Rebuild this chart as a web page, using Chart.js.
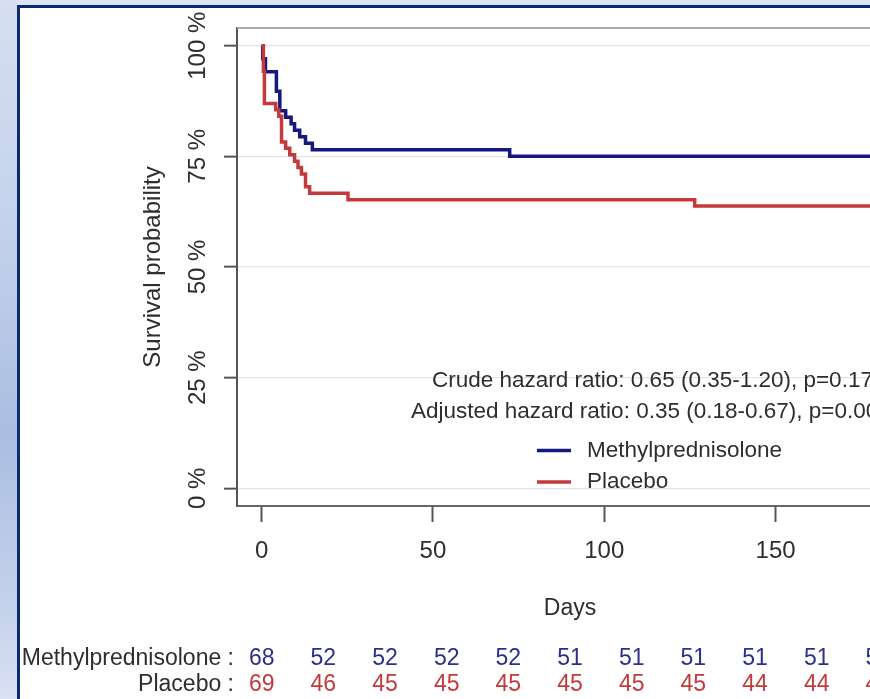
<!DOCTYPE html>
<html>
<head>
<meta charset="utf-8">
<script src="https://cdn.jsdelivr.net/npm/chart.js@4.4.1/dist/chart.umd.min.js"></script>
<style>
  html, body { margin: 0; padding: 0; width: 870px; height: 699px; overflow: hidden; background: #dfe4f4; }
  #strip { position: absolute; left: 0; top: 0; width: 17px; height: 699px;
    background: linear-gradient(to bottom, #d6dff1 0%, #c6d3ec 30%, #aabee2 62%, #c3d0eb 85%, #d9e1f3 100%); }
  #panel { position: absolute; left: 17px; top: 5px; width: 900px; height: 720px; background: #fff;
    border-left: 3px solid #0b2a72; border-top: 3px solid #0b2a72; }
  #wrap { position: absolute; left: 0; top: 0; width: 1000px; height: 699px; }
</style>
</head>
<body>
<div id="strip"></div>
<div id="panel"></div>
<div id="wrap"><canvas id="km" width="1000" height="699"></canvas></div>
<script>
// Kaplan-Meier survival, methylprednisolone vs placebo

const methylDays = [0, 0.3, 1.1, 4.3, 5.3, 7.0, 8.6, 9.6, 11.1, 12.8, 14.8, 72.4, 180];
const methylSurv = [100, 97.06, 94.12, 89.71, 85.29, 83.82, 82.35, 80.88, 79.41, 77.94, 76.47, 75.0, 75.0];

const placeboDays = [0, 0.5, 0.8, 4.1, 5.0, 5.8, 7.0, 8.2, 9.6, 10.6, 11.6, 12.8, 14.0, 25.2, 126.4, 180];
const placeboSurv = [100, 94.20, 86.96, 85.51, 84.06, 78.26, 76.81, 75.36, 73.91, 72.46, 71.01, 68.12, 66.67, 65.22, 63.77, 63.77];

const groupNames = ['Methylprednisolone', 'Placebo'];
const groupColors = ['#14187f', '#c43a3c'];
const riskColors = ['#2c2f8e', '#c23b3b'];

const riskDays = [0, 18, 36, 54, 72, 90, 108, 126, 144, 162, 180];
const riskMethyl = [68, 52, 52, 52, 52, 51, 51, 51, 51, 51, 51];
const riskPlacebo = [69, 46, 45, 45, 45, 45, 45, 45, 44, 44, 44];

const hrLines = [
    'Crude hazard ratio: 0.65 (0.35-1.20), p=0.17',
    'Adjusted hazard ratio: 0.35 (0.18-0.67), p=0.002'
];

const FAM = '"Liberation Sans", Arial, sans-serif';
const TXT = '#2e2e2e';

function toPoints(days, surv) {
    return days.map((d, i) => ({ x: d, y: surv[i] }));
}

const extras = {
    id: 'extras',
    afterDraw(chart) {
        const { ctx, chartArea: a, scales: { x } } = chart;
        ctx.save();

        // rest of the box
        ctx.strokeStyle = '#a9a9a9';
        ctx.lineWidth = 2;
        ctx.beginPath();
        ctx.moveTo(a.left, a.top);
        ctx.lineTo(a.right, a.top);
        ctx.lineTo(a.right, a.bottom);
        ctx.stroke();

        // hazard ratios
        ctx.fillStyle = TXT;
        ctx.font = '22.5px ' + FAM;
        ctx.textBaseline = 'middle';
        ctx.textAlign = 'left';
        ctx.fillText(hrLines[0], 432, 381);
        ctx.fillText(hrLines[1], 411, 412);

        // legend
        const legY = [450.5, 482];
        groupNames.forEach((name, i) => {
            ctx.strokeStyle = groupColors[i];
            ctx.lineWidth = 3.5;
            ctx.beginPath();
            ctx.moveTo(537, legY[i]);
            ctx.lineTo(571, legY[i]);
            ctx.stroke();
            ctx.fillStyle = TXT;
            ctx.fillText(name, 587, legY[i]);
        });

        // numbers at risk
        ctx.font = '23px ' + FAM;
        const rows = [riskMethyl, riskPlacebo];
        const rowY = [659, 685];
        rows.forEach((row, r) => {
            ctx.textAlign = 'right';
            ctx.fillStyle = TXT;
            ctx.fillText(groupNames[r] + ' :', 234, rowY[r]);
            ctx.textAlign = 'center';
            ctx.fillStyle = riskColors[r];
            row.forEach((n, i) => {
                ctx.fillText(String(n), x.getPixelForValue(riskDays[i]), rowY[r]);
            });
        });

        ctx.restore();
    }
};

const ctx = document.getElementById('km').getContext('2d');

new Chart(ctx, {
    type: 'line',
    data: {
        datasets: [
            {
                label: groupNames[1],
                data: toPoints(placeboDays, placeboSurv),
                borderColor: groupColors[1],
                borderWidth: 3.5,
                stepped: 'before',
                pointRadius: 0,
                fill: false,
                order: 0
            },
            {
                label: groupNames[0],
                data: toPoints(methylDays, methylSurv),
                borderColor: groupColors[0],
                borderWidth: 3.5,
                stepped: 'before',
                pointRadius: 0,
                fill: false,
                order: 1
            }
        ]
    },
    options: {
        responsive: false,
        animation: false,
        devicePixelRatio: 1,
        layout: { padding: { left: 0, top: 28, right: 97, bottom: 0 } },
        plugins: {
            legend: { display: false },
            tooltip: { enabled: false }
        },
        scales: {
            x: {
                type: 'linear',
                min: -7.2,
                max: 187.2,
                afterFit: s => { s.height = 193; },
                ticks: {
                    stepSize: 50,
                    includeBounds: false,
                    padding: 15,
                    color: TXT,
                    font: { family: FAM, size: 24 },
                    maxRotation: 0
                },
                grid: {
                    drawOnChartArea: false,
                    drawTicks: true,
                    tickLength: 16,
                    tickColor: '#555',
                    tickWidth: 2
                },
                border: { display: true, color: '#666', width: 2 },
                title: {
                    display: true,
                    text: 'Days',
                    color: TXT,
                    font: { family: FAM, size: 23 },
                    padding: { top: 0, bottom: 77 }
                }
            },
            y: {
                type: 'linear',
                min: -4,
                max: 104,
                afterFit: s => { s.width = 237; },
                ticks: {
                    stepSize: 25,
                    includeBounds: false,
                    minRotation: 90,
                    maxRotation: 90,
                    crossAlign: 'center',
                    padding: -8.5,
                    color: TXT,
                    font: { family: FAM, size: 24 },
                    callback: v => v + ' %'
                },
                grid: {
                    color: '#e4e4e4',
                    lineWidth: 1.3,
                    tickLength: 13,
                    tickColor: '#555',
                    tickWidth: 2
                },
                border: { display: true, color: '#555', width: 2 },
                title: {
                    display: true,
                    text: 'Survival probability',
                    color: TXT,
                    font: { family: FAM, size: 24 },
                    padding: { top: 139, bottom: 0 }
                }
            }
        }
    },
    plugins: [extras]
});
</script>
</body>
</html>
